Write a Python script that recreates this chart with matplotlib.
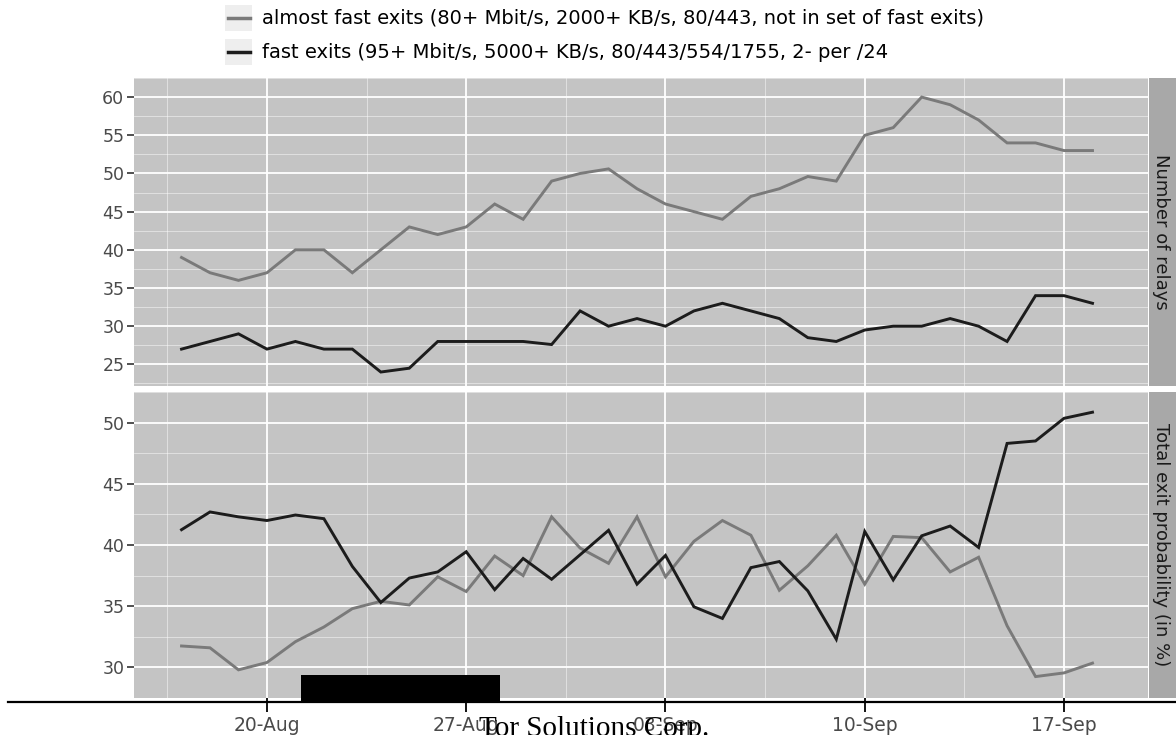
import matplotlib
matplotlib.use("Agg")
import matplotlib.pyplot as plt
import matplotlib.dates as mdates
from matplotlib.lines import Line2D
from matplotlib.patches import Rectangle
import pandas as pd
import numpy as np

# ---------------- data ----------------
dates = pd.date_range("2012-08-17", "2012-09-18", freq="D")

relays_almost = [39, 37, 36, 37, 40, 40, 37, 40, 43, 42, 43, 46, 44, 49, 50, 50.6,
                 48, 46, 45, 44, 47, 48, 49.6, 49, 55, 56, 60, 59, 57, 54, 54, 53, 53]
relays_fast = [27, 28, 29, 27, 28, 27, 27, 24, 24.5, 28, 28, 28, 28, 27.6, 32, 30,
               31, 30, 32, 33, 32, 31, 28.5, 28, 29.5, 30, 30, 31, 30, 28, 34, 34, 33]
prob_almost = [31.75, 31.6, 29.8, 30.4, 32.1, 33.3, 34.8, 35.4, 35.1, 37.4, 36.2, 39.1,
               37.5, 42.3, 39.75, 38.5, 42.3, 37.4, 40.3, 42.0, 40.8, 36.3, 38.3, 40.8,
               36.8, 40.7, 40.6, 37.8, 39.0, 33.4, 29.25, 29.55, 30.35]
prob_fast = [41.25, 42.7, 42.3, 42.0, 42.45, 42.15, 38.25, 35.3, 37.3, 37.8, 39.45, 36.35,
             38.9, 37.2, 39.2, 41.2, 36.8, 39.15, 34.95, 34.0, 38.15, 38.65, 36.25, 32.3,
             41.1, 37.15, 40.75, 41.55, 39.8, 48.3, 48.5, 50.35, 50.85]

series_labels = ["almost fast exits (80+ Mbit/s, 2000+ KB/s, 80/443, not in set of fast exits)",
                 "fast exits (95+ Mbit/s, 5000+ KB/s, 80/443/554/1755, 2- per /24"]
panel_labels = ["Number of relays", "Total exit probability (in %)"]
x_ticks = pd.to_datetime(["2012-08-20", "2012-08-27", "2012-09-03", "2012-09-10", "2012-09-17"])
top_yticks = [25, 30, 35, 40, 45, 50, 55, 60]
bot_yticks = [30, 35, 40, 45, 50]

# ---------------- styling ----------------
W, H = 1176, 735
DPI = 100
GREY_LINE = "#7a7a7a"
BLACK_LINE = "#1c1c1c"
PANEL_BG = "#c4c4c4"
STRIP_BG = "#a8a8a8"
TICK_TXT = "#4a4a4a"

fig = plt.figure(figsize=(W / DPI, H / DPI), dpi=DPI)
fig.patch.set_facecolor("white")


def px_axes(left, top, right, bottom):
    return fig.add_axes([left / W, (H - bottom) / H, (right - left) / W, (bottom - top) / H])


xmin = mdates.date2num(pd.Timestamp("2012-08-17")) - 1.67
xmax = mdates.date2num(pd.Timestamp("2012-09-18")) + 1.95

ax_top = px_axes(134, 78, 1148, 386)
ax_bot = px_axes(134, 392, 1148, 698)

panels = [
    (ax_top, relays_almost, relays_fast, (22.17, 61.8), top_yticks),
    (ax_bot, prob_almost, prob_fast, (28.14, 51.86), bot_yticks),
]

for ax, ya, yf, ylim, yt in panels:
    ax.set_facecolor(PANEL_BG)
    ax.set_xlim(xmin, xmax)
    ax.set_ylim(*ylim)
    ax.set_yticks(yt)
    ax.set_xticks(mdates.date2num(x_ticks))
    # minor gridlines at midpoints
    xt = mdates.date2num(x_ticks)
    minors_x = list((xt[:-1] + xt[1:]) / 2) + [xt[0] - 3.5, xt[-1] + 3.5]
    ax.set_xticks(minors_x, minor=True)
    ax.set_yticks([v + 2.5 for v in yt] + [yt[0] - 2.5], minor=True)
    ax.grid(which="major", color="white", linewidth=1.3)
    ax.grid(which="minor", color="white", linewidth=0.6, alpha=0.55)
    ax.set_axisbelow(True)
    for s in ax.spines.values():
        s.set_visible(False)
    ax.plot(dates, ya, color=GREY_LINE, linewidth=2.1, solid_joinstyle="miter", zorder=3)
    ax.plot(dates, yf, color=BLACK_LINE, linewidth=2.1, solid_joinstyle="miter", zorder=4)
    ax.tick_params(axis="y", which="major", length=5, width=1.2, color="#333333",
                   labelsize=12.5, labelcolor=TICK_TXT, pad=2)
    ax.tick_params(which="minor", length=0)
    ax.set_xlim(xmin, xmax)

ax_top.tick_params(axis="x", which="major", length=0, labelbottom=False)
ax_bot.xaxis.set_major_formatter(mdates.DateFormatter("%d-%b"))
ax_bot.tick_params(axis="x", which="major", length=10, width=1.3, color="black",
                   labelsize=13.5, labelcolor=TICK_TXT, pad=3)

# strips
for (top, bottom), lab in zip([(78, 386), (392, 698)], panel_labels):
    sax = px_axes(1149, top, 1177, bottom)
    sax.set_facecolor(STRIP_BG)
    sax.set_xticks([])
    sax.set_yticks([])
    for s in sax.spines.values():
        s.set_visible(False)
    fig.text(1161 / W, (H - (top + bottom) / 2) / H, lab, rotation=-90,
             ha="center", va="center", fontsize=13, color="#1a1a1a")

# legend
for i, (lab, col) in enumerate(zip(series_labels, [GREY_LINE, BLACK_LINE])):
    yc = [18, 52][i]
    fig.add_artist(Rectangle((225 / W, (H - yc - 13) / H), 27 / W, 26 / H,
                             transform=fig.transFigure, facecolor="#eeeeee",
                             edgecolor="none"))
    fig.add_artist(Line2D([228 / W, 250 / W], [(H - yc) / H] * 2,
                          transform=fig.transFigure, color=col, linewidth=2.5))
    fig.text(262 / W, (H - yc) / H, lab, ha="left", va="center",
             fontsize=14, color="black")

# bottom baseline, redaction bar and overlaid text from the scanned document
fig.add_artist(Line2D([8 / W, 1.0], [(H - 702) / H] * 2, transform=fig.transFigure,
                      color="black", linewidth=1.6, zorder=10))
fig.add_artist(Rectangle((301 / W, (H - 703) / H), 199 / W, 28 / H,
                         transform=fig.transFigure, facecolor="black",
                         edgecolor="none", zorder=11))
fig.text(479 / W, (H - 736) / H, "Tor Solutions Corp.", ha="left", va="baseline",
         fontsize=21, family="Liberation Serif", color="black", zorder=12)

fig.savefig("out.png", dpi=DPI)
